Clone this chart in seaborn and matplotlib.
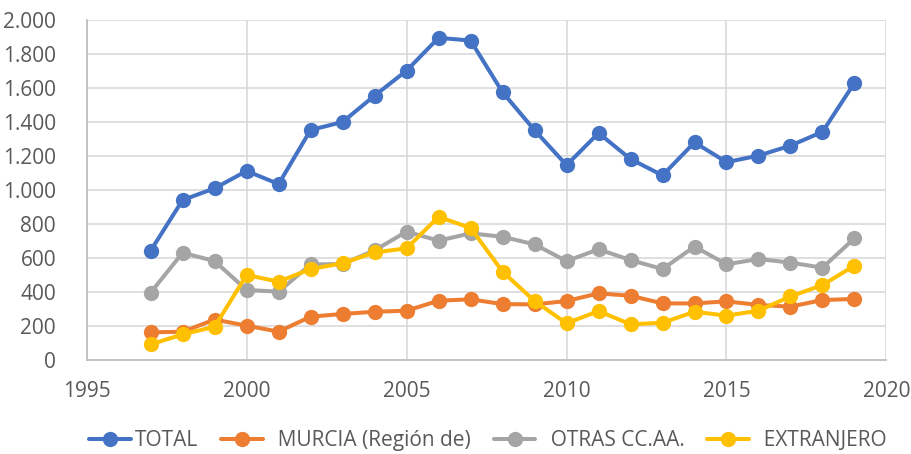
import matplotlib
matplotlib.use("Agg")
import matplotlib.pyplot as plt
import seaborn as sns
import pandas as pd
from matplotlib.ticker import FuncFormatter, MultipleLocator

years = list(range(1997, 2020))
total = [643, 941, 1010, 1112, 1035, 1353, 1400, 1555, 1702, 1895, 1879, 1575,
         1352, 1146, 1335, 1182, 1086, 1280, 1164, 1202, 1261, 1342, 1630]
murcia = [163, 166, 238, 202, 167, 255, 271, 284, 290, 349, 357, 329,
          327, 347, 392, 378, 333, 333, 345, 324, 314, 353, 359]
otras = [396, 631, 582, 412, 402, 562, 565, 645, 755, 702, 745, 725,
         680, 582, 651, 588, 535, 667, 563, 594, 573, 543, 716]
extranjero = [92, 151, 196, 500, 461, 535, 569, 633, 657, 842, 777, 520,
              347, 216, 288, 210, 219, 284, 261, 290, 374, 441, 555]
series_names = ["TOTAL", "MURCIA (Región de)", "OTRAS CC.AA.", "EXTRANJERO"]
colors = ["#4472C4", "#ED7D31", "#A5A5A5", "#FFC000"]

df = pd.DataFrame({
    "year": years * 4,
    "value": total + murcia + otras + extranjero,
    "serie": sum([[n] * len(years) for n in series_names], []),
})

sns.set_style("white")
plt.rcParams["font.family"] = ["Open Sans", "DejaVu Sans"]

fig = plt.figure(figsize=(9.12, 4.54), dpi=100)
ax = fig.add_axes([0.095, 0.207, 0.877, 0.749])

sns.lineplot(data=df, x="year", y="value", hue="serie", hue_order=series_names,
             palette=colors, marker="o", markersize=11, markeredgewidth=0,
             linewidth=2.9, ax=ax, legend=False)

ax.set_xlim(1995, 2020)
ax.set_ylim(0, 2000)
ax.xaxis.set_major_locator(MultipleLocator(5))
ax.yaxis.set_major_locator(MultipleLocator(200))
ax.yaxis.set_major_formatter(FuncFormatter(lambda v, p: f"{int(v):,}".replace(",", ".")))
ax.grid(True, color="#D9D9D9", linewidth=1.2)
ax.set_axisbelow(True)
for s in ["top", "right"]:
    ax.spines[s].set_visible(False)
for s in ["left", "bottom"]:
    ax.spines[s].set_color("#BFBFBF")
    ax.spines[s].set_linewidth(1.3)
ax.tick_params(axis="both", length=0, labelsize=15, colors="#595959")
ax.tick_params(axis="x", pad=15)
ax.tick_params(axis="y", pad=22)
ax.set_xlabel("")
ax.set_ylabel("")

handles = [plt.Line2D([], [], color=c, marker="o", markersize=11, linewidth=2.9,
                      markeredgewidth=0) for c in colors]
leg = fig.legend(handles, ["TOTAL", "  MURCIA (Región de)", "  OTRAS CC.AA.", "  EXTRANJERO"],
                 loc="center", bbox_to_anchor=(0.535, 0.03), ncol=4, frameon=False,
                 fontsize=15, handlelength=2.0, handletextpad=0.2, columnspacing=1.1)
for t in leg.get_texts():
    t.set_color("#595959")

fig.savefig("out.png", dpi=100)
